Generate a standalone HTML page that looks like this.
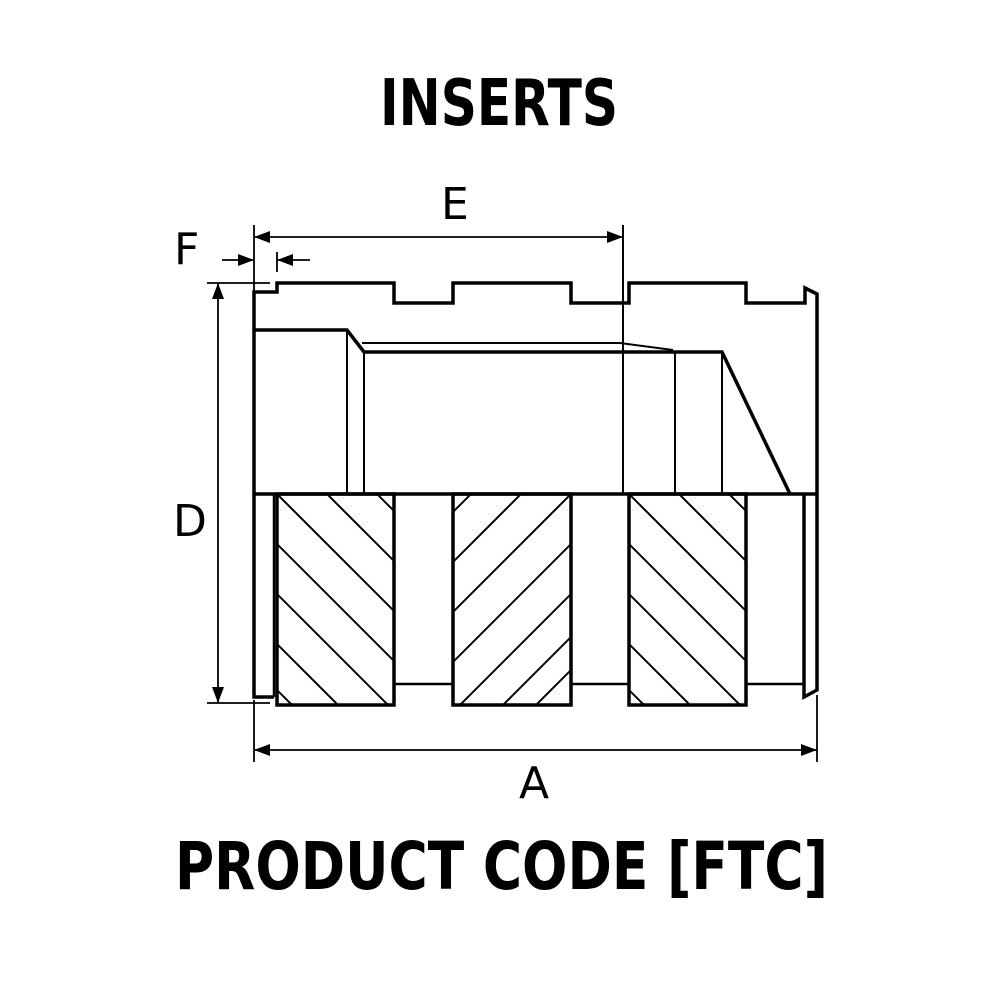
<!DOCTYPE html>
<html><head><meta charset="utf-8"><style>html,body{margin:0;padding:0;background:#fff}svg{display:block}</style></head>
<body>
<svg width="1000" height="1000" viewBox="0 0 1000 1000" xmlns="http://www.w3.org/2000/svg">
<defs>
<clipPath id="b1"><rect x="277" y="494" width="117" height="211"/></clipPath>
<clipPath id="b2"><rect x="453" y="494" width="118" height="211"/></clipPath>
<clipPath id="b3"><rect x="629" y="494" width="117" height="211"/></clipPath>
</defs>
<g font-family="'DejaVu Sans','Liberation Sans',sans-serif" font-weight="bold" fill="#000">
<text x="380" y="125" font-size="64" textLength="238" lengthAdjust="spacingAndGlyphs">INSERTS</text>
<text x="175" y="889" font-size="66" textLength="653" lengthAdjust="spacingAndGlyphs">PRODUCT CODE [FTC]</text>
</g>
<g font-family="'DejaVu Sans','Liberation Sans',sans-serif" fill="#000" font-size="44">
<text x="441" y="219">E</text>
<text x="174" y="264">F</text>
<text x="173" y="536">D</text>
<text x="519" y="798">A</text>
</g>
<g fill="none" stroke="#000" stroke-width="3.5" stroke-linejoin="miter">
<polyline points="274,697 254,697 254,292 277,292 277,283 394,283 394,303 453,303 453,283 571,283 571,303 629,303 629,283 746,283 746,303 805,303 805,288 817,294 817,690 804,697 804,494"/>
<line x1="254" y1="494" x2="817" y2="494"/>
<polyline points="254,330 347,330 364,352 722,352 790,494"/>
<rect x="277" y="494" width="117" height="211"/>
<rect x="453" y="494" width="118" height="211"/>
<rect x="629" y="494" width="117" height="211"/>
<line x1="394" y1="684" x2="453" y2="684" stroke-width="2.5"/>
<line x1="571" y1="684" x2="629" y2="684" stroke-width="2.5"/>
<line x1="746" y1="684" x2="804" y2="684" stroke-width="2.5"/>
<line x1="274" y1="494" x2="274" y2="697" stroke-width="2.5"/>
</g>
<g fill="none" stroke="#000" stroke-width="2">
<polyline points="362,343 620,343 673,350"/>
<line x1="347" y1="330" x2="347" y2="494"/>
<line x1="364" y1="352" x2="364" y2="494"/>
<line x1="623" y1="225" x2="623" y2="494"/>
<line x1="675" y1="352" x2="675" y2="494"/>
<line x1="722" y1="352" x2="722" y2="494"/>
</g>
<g stroke="#000" stroke-width="2">
<g clip-path="url(#b1)">
<line x1="227" y1="444" x2="527" y2="744"/><line x1="277" y1="444" x2="577" y2="744"/><line x1="327" y1="444" x2="627" y2="744"/>
<line x1="227" y1="494" x2="527" y2="794"/><line x1="227" y1="544" x2="527" y2="844"/><line x1="227" y1="594" x2="527" y2="894"/><line x1="227" y1="640" x2="527" y2="940"/><line x1="227" y1="670" x2="527" y2="970"/>
</g>
<g clip-path="url(#b2)">
<line x1="621" y1="444" x2="321" y2="744"/><line x1="571" y1="444" x2="271" y2="744"/><line x1="521" y1="444" x2="221" y2="744"/>
<line x1="621" y1="494" x2="321" y2="794"/><line x1="621" y1="544" x2="321" y2="844"/><line x1="621" y1="587" x2="321" y2="887"/><line x1="621" y1="620" x2="321" y2="920"/><line x1="621" y1="655" x2="321" y2="955"/>
</g>
<g clip-path="url(#b3)">
<line x1="579" y1="444" x2="879" y2="744"/><line x1="629" y1="444" x2="929" y2="744"/><line x1="679" y1="444" x2="979" y2="744"/>
<line x1="579" y1="494" x2="879" y2="794"/><line x1="579" y1="544" x2="879" y2="844"/><line x1="579" y1="594" x2="879" y2="894"/><line x1="579" y1="640" x2="879" y2="940"/><line x1="579" y1="665" x2="879" y2="965"/>
</g>
</g>
<g stroke="#000" stroke-width="1.8" fill="none">
<line x1="254" y1="225" x2="254" y2="292"/>
<line x1="254" y1="237" x2="623" y2="237"/>
<line x1="222" y1="260" x2="254" y2="260"/>
<line x1="277" y1="252" x2="277" y2="272"/>
<line x1="277" y1="260" x2="310" y2="260"/>
<line x1="207" y1="283" x2="270" y2="283"/>
<line x1="207" y1="703" x2="270" y2="703"/>
<line x1="218" y1="283" x2="218" y2="703"/>
<line x1="254" y1="700" x2="254" y2="762"/>
<line x1="817" y1="695" x2="817" y2="762"/>
<line x1="254" y1="750" x2="817" y2="750"/>
</g>
<g fill="#000">
<polygon points="254,237 270,231 270,243"/>
<polygon points="623,237 607,231 607,243"/>
<polygon points="254,260 238,254 238,266"/>
<polygon points="277,260 293,254 293,266"/>
<polygon points="218,283 212,299 224,299"/>
<polygon points="218,703 212,687 224,687"/>
<polygon points="254,750 270,744 270,756"/>
<polygon points="817,750 801,744 801,756"/>
</g>
</svg>
</body></html>
